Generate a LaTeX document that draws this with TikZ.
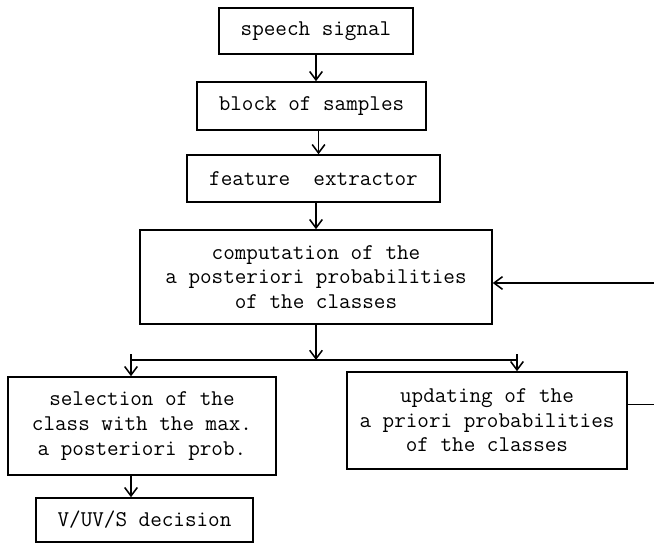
\documentclass[tikz,border=0pt]{standalone}
\usepackage{fontspec}
\usetikzlibrary{arrows.meta}

\begin{document}
\begin{tikzpicture}[
  x=0.025cm, y=-0.025cm,
  box/.style={draw, rectangle, line width=1.1pt, align=center, inner sep=0pt,
    font=\fontsize{16}{17.5}\selectfont\ttfamily},
  arr/.style={line width=1.1pt, -{Straight Barb[length=6pt,width=9pt]}},
  wire/.style={line width=1.1pt}
]
\useasboundingbox (0,0) rectangle (654,544);

\node[box, minimum width=4.85cm, minimum height=1.15cm] (sig) at (316,31) {speech signal};
\node[box, minimum width=5.725cm, minimum height=1.2cm] (blk) at (311.5,106) {block of samples};
\node[box, minimum width=6.325cm, minimum height=1.175cm] (feat) at (313.5,178.5) {feature\ \ extractor};
\node[box, minimum width=8.8cm, minimum height=2.35cm] (comp) at (316,277)
  {computation of the\\a posteriori probabilities\\of the classes};
\node[box, minimum width=6.7cm, minimum height=2.45cm] (sel) at (142,426)
  {selection of the\\class with the max.\\a posteriori prob.};
\node[box, minimum width=7cm, minimum height=2.425cm] (upd) at (487,420.5)
  {updating of the\\a priori probabilities\\of the classes};
\node[box, minimum width=5.425cm, minimum height=1.1cm] (dec) at (144.5,520) {V/UV/S decision};

% branch points under the computation box
\coordinate (split) at (comp.south |- 0,360);
\coordinate (lft) at (131,360);
\coordinate (rgt) at (517,360);

\draw[arr] (sig) -- (sig |- blk.north);
\draw[arr] ([xshift=5pt]blk.south) -- ([xshift=5pt]blk.south |- feat.north);
\draw[arr] (feat.south -| comp.north) -- (comp.north);
\draw[arr] (comp) -- (split);
\draw[wire] (lft) -- (rgt);
\draw[arr] ([yshift=4pt]lft) -- (lft |- sel.north);
\draw[arr] ([yshift=4pt]rgt) -- (rgt |- upd.north);
\draw[arr] (lft |- sel.south) -- (lft |- dec.north);

% feedback of the a priori probabilities
\draw[arr] ([yshift=0.4cm]upd.east) -- ++(35,0) |- ([yshift=-0.15cm]comp.east);

\end{tikzpicture}
\end{document}
